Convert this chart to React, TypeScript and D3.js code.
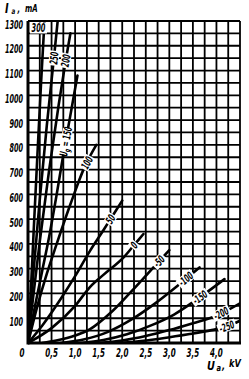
import React from 'react';
import * as d3 from 'd3';

const W = 249;
const H = 379;

// axis ticks
const yTickValues = [100, 200, 300, 400, 500, 600, 700, 800, 900, 1000, 1100, 1200, 1300];
const xTickValues = [0.5, 1.0, 1.5, 2.0, 2.5, 3.0, 3.5, 4.0];
const xTickLabels = ['0,5', '1,0', '1,5', '2,0', '2,5', '3,0', '3,5', '4,0'];

// curves: [Ua (kV), Ia (mA)] for each grid voltage
const curveP300: [number, number][] = [[0, 0], [0.05, 170], [0.12, 450], [0.2, 760], [0.28, 1060], [0.35, 1300]];
const curveP250: [number, number][] = [[0, 0], [0.1, 250], [0.25, 580], [0.4, 880], [0.55, 1150], [0.63, 1300]];
const curveP200: [number, number][] = [[0, 0], [0.1, 170], [0.25, 410], [0.45, 700], [0.65, 960], [0.8, 1140], [0.9, 1250]];
const curveP150: [number, number][] = [[0, 0], [0.15, 150], [0.3, 290], [0.45, 430], [0.6, 590], [0.75, 760], [0.9, 920], [1.05, 1080]];
const curveP100: [number, number][] = [[0, 0], [0.2, 150], [0.4, 280], [0.6, 395], [0.9, 560], [1.2, 710], [1.45, 800]];
const curveP50: [number, number][] = [[0, 0], [0.3, 70], [0.7, 180], [1.0, 270], [1.31, 370], [1.6, 455], [1.8, 515], [2.0, 575]];
const curve0: [number, number][] = [[0, 0], [0.5, 60], [1.0, 150], [1.31, 225], [1.6, 275], [2.05, 350], [2.25, 395], [2.45, 440]];
const curveM50: [number, number][] = [[0.3, 0], [0.6, 10], [1.0, 30], [1.31, 55], [1.8, 130], [2.3, 230], [2.78, 330], [3.0, 375]];
const curveM100: [number, number][] = [[0.7, 0], [1.2, 15], [1.7, 45], [2.2, 95], [2.7, 160], [3.2, 235], [3.64, 305]];
const curveM150: [number, number][] = [[1.1, 0], [1.6, 12], [2.1, 35], [2.6, 70], [3.1, 115], [3.6, 178], [4.17, 258]];
const curveM200: [number, number][] = [[1.5, 0], [2.0, 10], [2.5, 28], [3.0, 52], [3.5, 80], [4.0, 110], [4.5, 160]];
const curveM250: [number, number][] = [[1.9, 0], [2.4, 8], [2.9, 20], [3.4, 35], [3.9, 52], [4.2, 65], [4.5, 90]];

const curves = [curveP300, curveP250, curveP200, curveP150, curveP100, curveP50, curve0, curveM50, curveM100, curveM150, curveM200, curveM250];
const gridVoltageLabels = ['300', '250', '200', '150', '100', '50', '0', '-50', '-100', '-150', '-200', '-250'];
const labelUa = [0.3, 0.55, 0.8, 0.8, 1.25, 1.75, 2.25, 2.78, 3.35, 3.65, 4.1, 4.22];

const FONT = 'DejaVu Sans, sans-serif';

function interp(c: [number, number][], u: number): number {
  if (u <= c[0][0]) return c[0][1];
  for (let i = 1; i < c.length; i++) {
    if (u <= c[i][0]) {
      const t = (u - c[i - 1][0]) / (c[i][0] - c[i - 1][0]);
      return c[i - 1][1] + t * (c[i][1] - c[i - 1][1]);
    }
  }
  return c[c.length - 1][1];
}

export default function App() {
  const left = 28, right = 240, top = 21, bottom = 343;
  const x = d3.scaleLinear().domain([0, 4.5]).range([left, right]);
  const y = d3.scaleLinear().domain([0, 1300]).range([bottom, top]);
  const line = d3.line<[number, number]>().x(d => x(d[0])).y(d => y(d[1])).curve(d3.curveMonotoneX);

  const vGrid = d3.range(0, 4.5001, 0.25);
  const hGrid = d3.range(0, 1300.1, 50);

  const labels = gridVoltageLabels.map((t, i) => {
    if (i === 0) return null;
    const c = curves[i];
    const u = labelUa[i];
    const u1 = Math.max(c[0][0], u - 0.06), u2 = Math.min(c[c.length - 1][0], u + 0.06);
    const px = x(u), py = y(interp(c, u));
    const ang = Math.atan2(y(interp(c, u2)) - y(interp(c, u1)), x(u2) - x(u1)) * 180 / Math.PI;
    const isUg = t === '150';
    const w = isUg ? 26 : t.length * 3.9 + 3;
    return (
      <g key={t} transform={`translate(${px},${py}) rotate(${ang})`}>
        <rect x={-w / 2} y={-5} width={w} height={10} fill="#fff" />
        <text transform="scale(0.55,1)" textAnchor="middle" y={4} fontSize={11} fontWeight="bold" fontStyle="italic" fontFamily={FONT} fill="#000">
          {isUg ? (<>
            <tspan>U</tspan><tspan fontSize={8} dy={2}>g</tspan><tspan dy={-2}>{' = 150'}</tspan>
          </>) : t}
        </text>
      </g>
    );
  });

  return (
    <svg width={W} height={H} style={{ position: 'absolute', left: 0, top: 0, background: '#fff' }}>
      <rect x={0} y={0} width={W} height={H} fill="#fff" />
      <defs>
        <clipPath id="plot"><rect x={left} y={top} width={right - left} height={bottom - top} /></clipPath>
      </defs>
      {vGrid.map(v => (
        <line key={'v' + v} x1={x(v)} x2={x(v)} y1={top} y2={bottom} stroke="#000" strokeWidth={1.8} />
      ))}
      {hGrid.map(v => (
        <line key={'h' + v} x1={left} x2={right} y1={y(v)} y2={y(v)} stroke="#000" strokeWidth={1.8} />
      ))}
      <line x1={left} x2={left} y1={top} y2={bottom + 1.5} stroke="#000" strokeWidth={3} />
      <line x1={left} x2={right + 1} y1={bottom} y2={bottom} stroke="#000" strokeWidth={3} />
      <g clipPath="url(#plot)">
        {curves.map((c, i) => (
          <path key={'c' + i} d={line(c) || ''} fill="none" stroke="#000" strokeWidth={2.6} strokeLinejoin="round" strokeLinecap="round" />
        ))}
      </g>
      {labels}
      <g>
        <rect x={left + 2} y={top + 1.5} width={17} height={11} fill="#fff" />
        <text transform={`translate(${left + 10.5},${top + 11}) scale(0.55,1)`} textAnchor="middle" fontSize={12} fontWeight="bold" fontStyle="italic" fontFamily={FONT}>{gridVoltageLabels[0]}</text>
      </g>
      {yTickValues.map(v => (
        <text key={'yt' + v} transform={`translate(23,${y(v) + 7.5}) scale(0.5,1)`} textAnchor="end" fontSize={13} fontWeight="bold" fontStyle="italic" fontFamily={FONT}>{v}</text>
      ))}
      <text transform={`translate(22,357) scale(0.55,1)`} textAnchor="middle" fontSize={13} fontWeight="bold" fontStyle="italic" fontFamily={FONT}>0</text>
      {xTickValues.map((v, i) => (
        <text key={'xt' + v} transform={`translate(${x(v)},357) scale(0.55,1)`} textAnchor="middle" fontSize={13} fontWeight="bold" fontStyle="italic" fontFamily={FONT}>{xTickLabels[i]}</text>
      ))}
      <g fontWeight="bold" fontStyle="italic" fontFamily={FONT}>
        <text transform="translate(5,13) scale(0.7,1)" fontSize={14}>I</text>
        <text transform="translate(11.5,14) scale(0.7,1)" fontSize={8}>a</text>
        <text transform="translate(17.5,12) scale(0.7,1)" fontSize={10}>,</text>
        <text transform="translate(25,11.5) scale(0.7,1)" fontSize={10}>mA</text>
        <text transform="translate(207,370) scale(0.75,1)" fontSize={13}>U</text>
        <text transform="translate(216.5,371) scale(0.75,1)" fontSize={9}>a</text>
        <text transform="translate(222,369) scale(0.75,1)" fontSize={11}>,</text>
        <text transform="translate(229,367) scale(0.75,1)" fontSize={11}>kV</text>
      </g>
    </svg>
  );
}
